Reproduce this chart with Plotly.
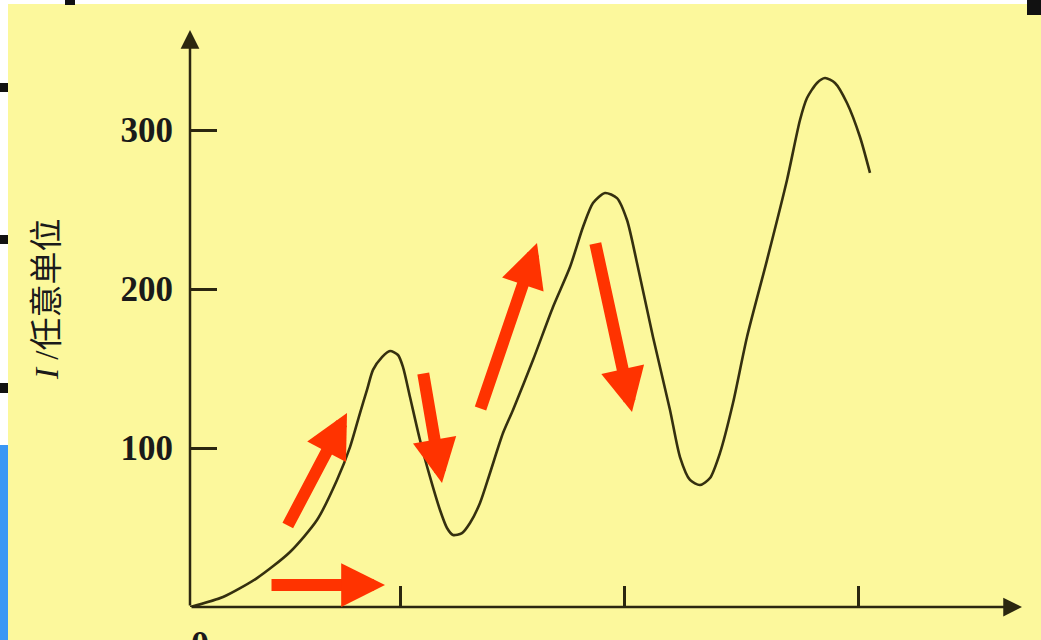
import plotly.graph_objects as go

# Curve data (voltage in arbitrary units, current I in arbitrary units)
voltage = [0, 3.3, 6.7, 10.0, 12.7, 14.7, 16.0, 17.0, 17.7, 18.3, 19.2, 20.0, 20.8, 21.3,
           22.0, 23.0, 24.0, 25.0, 25.7, 26.3, 27.2, 28.0, 29.0, 30.0, 31.3, 32.3, 34.3,
           36.3, 38.0, 39.3, 40.3, 41.5, 42.7, 43.7, 44.7, 46.3, 48.0, 49.0, 50.0, 51.0,
           52.0, 53.0, 54.3, 55.7, 57.7, 59.7, 61.0, 61.7, 62.7, 63.5, 64.5, 65.7, 67.0, 68.0]
current = [0, 6.3, 18.2, 34.6, 54.7, 79.9, 100.6, 122.0, 136.5, 149.1, 157.2, 161.0, 158.5, 150.9,
           132.1, 105.0, 81.8, 61.0, 49.7, 45.3, 46.5, 52.8, 65.4, 84.3, 109.4, 123.9, 155.3,
           188.7, 213.8, 239.0, 254.1, 260.4, 257.2, 243.4, 216.4, 169.8, 123.9, 94.3, 79.9, 76.7,
           81.1, 96.9, 128.3, 169.8, 218.2, 268.6, 306.3, 320.1, 329.6, 332.7, 329.6, 317.0, 295.6, 273.0]

y_ticks = [100, 200, 300]
y_tick_labels = ["100", "200", "300"]
x_ticks = [21.0, 43.4, 66.8]

# red arrows: (tail_x, tail_y, tip_x, tip_y)
red_arrows = [
    (8.0, 13.8, 19.5, 13.8),
    (9.7, 50.3, 15.7, 122.0),
    (23.3, 147.8, 25.2, 78.0),
    (29.0, 123.9, 34.7, 228.9),
    (40.5, 229.6, 44.2, 122.6),
]

X_MAX = 83.5
Y_MAX = 362.9
AXIS_COLOR = "#2b2710"
YELLOW = "#FCF89C"

fig = go.Figure()
fig.add_trace(go.Scatter(
    x=voltage, y=current, mode="lines",
    line=dict(color="#35300f", width=2.6, shape="spline", smoothing=0.7),
    hoverinfo="skip", showlegend=False,
))

L, R, T, B = 190, 16, 30, 33
W, H = 1041, 640
pw, ph = W - L - R, H - T - B

def px_x(p):
    return (p - L) / pw

def px_y(p):
    return (H - B - p) / ph

annotations = []
# axes with arrowheads
annotations.append(dict(x=0, y=Y_MAX, ax=0, ay=0, xref="x", yref="y", axref="x", ayref="y",
                        showarrow=True, arrowhead=2, arrowwidth=2.5, arrowsize=1.5,
                        arrowcolor=AXIS_COLOR, text=""))
annotations.append(dict(x=83.2, y=0, ax=0, ay=0, xref="x", yref="y", axref="x", ayref="y",
                        showarrow=True, arrowhead=2, arrowwidth=2.5, arrowsize=1.5,
                        arrowcolor=AXIS_COLOR, text=""))
for tx, ty, hx, hy in red_arrows:
    annotations.append(dict(x=hx, y=hy, ax=tx, ay=ty, xref="x", yref="y", axref="x", ayref="y",
                            showarrow=True, arrowhead=2, arrowwidth=12, arrowsize=0.73,
                            arrowcolor="#FF3300", text=""))
# origin label
annotations.append(dict(x=1.0, y=0, xref="x", yref="y", text="<b>0</b>", showarrow=False,
                        yanchor="top", yshift=-15,
                        font=dict(family="Liberation Serif", size=36, color="#1a1a1a")))
# y title
annotations.append(dict(x=px_x(47), y=px_y(300), xref="paper", yref="paper",
                        text="<i>I</i> /任意单位",
                        showarrow=False, textangle=-90, xanchor="center", yanchor="middle",
                        font=dict(family="Liberation Serif, Noto Sans CJK SC", size=33, color="#1a1a1a")))

shapes = [
    # yellow slide background
    dict(type="rect", xref="paper", yref="paper", x0=px_x(8), x1=px_x(1045), y0=px_y(644), y1=px_y(4),
         fillcolor=YELLOW, line=dict(width=0), layer="below"),
    # blue strip lower-left
    dict(type="rect", xref="paper", yref="paper", x0=px_x(-2), x1=px_x(8), y0=px_y(644), y1=px_y(445),
         fillcolor="#3A97F5", line=dict(width=0), layer="below"),
    # black fragments at the edges
    dict(type="rect", xref="paper", yref="paper", x0=px_x(-2), x1=px_x(8), y0=px_y(92), y1=px_y(83),
         fillcolor="#111111", line=dict(width=0), layer="below"),
    dict(type="rect", xref="paper", yref="paper", x0=px_x(-2), x1=px_x(8), y0=px_y(244), y1=px_y(235),
         fillcolor="#111111", line=dict(width=0), layer="below"),
    dict(type="rect", xref="paper", yref="paper", x0=px_x(-2), x1=px_x(8), y0=px_y(393), y1=px_y(383),
         fillcolor="#111111", line=dict(width=0), layer="below"),
    dict(type="rect", xref="paper", yref="paper", x0=px_x(65), x1=px_x(75), y0=px_y(5), y1=px_y(-2),
         fillcolor="#111111", line=dict(width=0), layer="below"),
    dict(type="rect", xref="paper", yref="paper", x0=px_x(1027), x1=px_x(1045), y0=px_y(15), y1=px_y(-2),
         fillcolor="#111111", line=dict(width=0), layer="above"),
]

fig.update_layout(
    width=W, height=H,
    margin=dict(l=L, r=R, t=T, b=B, pad=0),
    paper_bgcolor="white",
    plot_bgcolor=YELLOW,
    showlegend=False,
    annotations=annotations,
    shapes=shapes,
    xaxis=dict(range=[0, X_MAX], showgrid=False, zeroline=False, showline=False,
               tickmode="array", tickvals=x_ticks, ticktext=["", "", ""],
               ticks="inside", ticklen=21, tickwidth=3, tickcolor=AXIS_COLOR),
    yaxis=dict(range=[0, Y_MAX], showgrid=False, zeroline=False, showline=False,
               tickmode="array", tickvals=y_ticks, ticktext=["<b>%s</b>" % t for t in y_tick_labels],
               ticks="inside", ticklen=27, tickwidth=2.5, tickcolor=AXIS_COLOR,
               ticklabelstandoff=16,
               tickfont=dict(family="Liberation Serif", size=35, color="#1a1a1a")),
)

fig.write_html("out.html", config={"displayModeBar": False},
               post_script="document.body.style.margin='0px';document.body.style.overflow='hidden';")
